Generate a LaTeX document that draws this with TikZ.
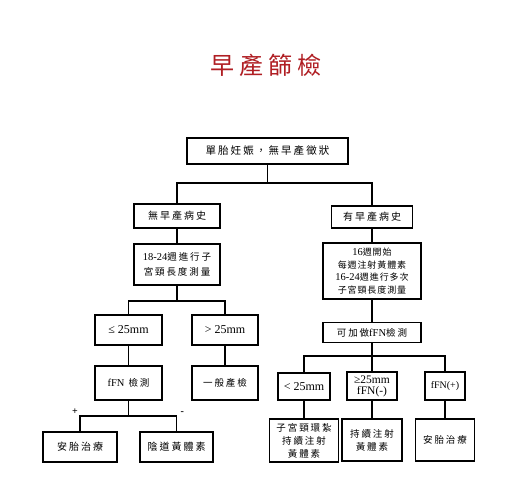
\documentclass[tikz,border=0pt]{standalone}
\usepackage{fontspec}
\setmainfont{Liberation Serif}
\newfontfamily\cjk[LetterSpace=20]{Noto Sans CJK TC}
\newfontfamily\cjknarrow[LetterSpace=10]{Noto Sans CJK TC}
\usetikzlibrary{positioning}
\definecolor{titlered}{HTML}{B01E23}
\tikzset{
  box/.style={draw, line width=1.1pt, inner sep=1pt, align=center,
    font=\cjk\fontsize{9.5}{13}\selectfont},
  latin/.style={font=\fontsize{12}{12}\selectfont},
  link/.style={line width=1.1pt},
  sign/.style={font=\bfseries\fontsize{10}{10}\selectfont, inner sep=0pt},
}
\newcommand{\lat}[1]{{\rmfamily\fontsize{10.5}{12}\selectfont #1}}
\begin{document}
\begin{tikzpicture}[x=1pt,y=-1pt]
\useasboundingbox[fill=white] (0,0) rectangle (517,497);
% title
\node[text=titlered, font=\cjk\fontsize{24}{24}\selectfont] (title) at (266,65) {早產篩檢};
% top level
\node[box, minimum width=161pt, minimum height=26pt, font=\cjk\fontsize{10.5}{13}\selectfont] (single) at (267.5,151) {單胎妊娠，無早產徵狀};
\coordinate (bus1) at (267.5,183);
% left branch: no history
\node[box, minimum width=86pt, minimum height=24pt, font=\cjk\fontsize{10}{13}\selectfont] (nohist) at (177,216) {無早產病史};
\node[box, minimum width=86pt, minimum height=41pt, font=\cjk\fontsize{9.5}{15}\selectfont] (measure) at (177,264.5) {\lat{18-24}週進行子\\宮頸長度測量};
\coordinate (bus2) at (177,301);
\node[box, latin, minimum width=67pt, minimum height=30pt] (le25) at (128.5,330) {≤ 25mm};
\node[box, latin, minimum width=66pt, minimum height=30pt] (gt25) at (225,330) {> 25mm};
\node[box, minimum width=67pt, minimum height=34pt] (fFN) at (128.5,383) {\lat{fFN} 檢測};
\node[box, minimum width=66pt, minimum height=34pt] (routine) at (225,383) {一般產檢};
\coordinate (bus3) at (128.5,416);
\node[box, minimum width=74pt, minimum height=30pt, font=\cjk\fontsize{10}{13}\selectfont] (tocol) at (80,447) {安胎治療};
\node[box, minimum width=73pt, minimum height=30pt, font=\cjk\fontsize{10}{13}\selectfont] (vagprog) at (176.5,447) {陰道黃體素};
\node[sign, above left=1pt and 2pt of tocol.north |- bus3] (plus) {+};
\node[sign, above right=1pt and 4pt of vagprog.north |- bus3] (minus) {-};
% right branch: with history
\node[box, minimum width=81pt, minimum height=22pt, font=\cjk\fontsize{10}{13}\selectfont] (hist) at (372,217) {有早產病史};
\node[box, minimum width=98pt, minimum height=56pt, font=\cjknarrow\fontsize{9}{12.5}\selectfont] (weekly) at (372,271) {\lat{16}週開始\\每週注射黃體素\\\lat{16-24}週進行多次\\子宮頸長度測量};
\node[box, minimum width=98pt, minimum height=20pt] (fFNopt) at (372,332.5) {可加做\lat{fFN}檢測};
\coordinate (bus4) at (372,356);
\node[box, latin, minimum width=52pt, minimum height=27pt] (lt25) at (304,386.5) {< 25mm};
\node[box, latin, minimum width=50pt, minimum height=28pt, inner sep=0pt, font=\fontsize{11.5}{11}\selectfont] (ge25) at (372,386) {≥25mm\\fFN(-)};
\node[box, latin, minimum width=40pt, minimum height=28pt, font=\fontsize{10}{12}\selectfont] (fpos) at (445,386) {fFN(+)};
\node[box, minimum width=69pt, minimum height=43pt] (cerclage) at (304,440.5) {子宮頸環紮\\持續注射\\黃體素};
\node[box, minimum width=60pt, minimum height=42pt] (contprog) at (372,440) {持續注射\\黃體素};
\node[box, minimum width=59pt, minimum height=42pt] (tocol2) at (445,440) {安胎治療};
% connectors
\draw[link] (single) -- (bus1);
\draw[link] (nohist.north) |- (bus1) -| (hist.north);
\draw[link] (nohist) -- (measure);
\draw[link] (measure) -- (bus2);
\draw[link] (le25.north) |- (bus2) -| (gt25.north);
\draw[link] (le25) -- (fFN);
\draw[link] (gt25) -- (routine);
\draw[link] (fFN) -- (bus3);
\draw[link] (tocol.north) |- (bus3) -| (vagprog.north);
\draw[link] (hist) -- (weekly);
\draw[link] (weekly) -- (fFNopt);
\draw[link] (fFNopt) -- (bus4);
\draw[link] (lt25.north) |- (bus4) -| (fpos.north);
\draw[link] (bus4) -- (ge25);
\draw[link] (lt25) -- (cerclage);
\draw[link] (ge25) -- (contprog);
\draw[link] (fpos) -- (tocol2);
\end{tikzpicture}
\end{document}
